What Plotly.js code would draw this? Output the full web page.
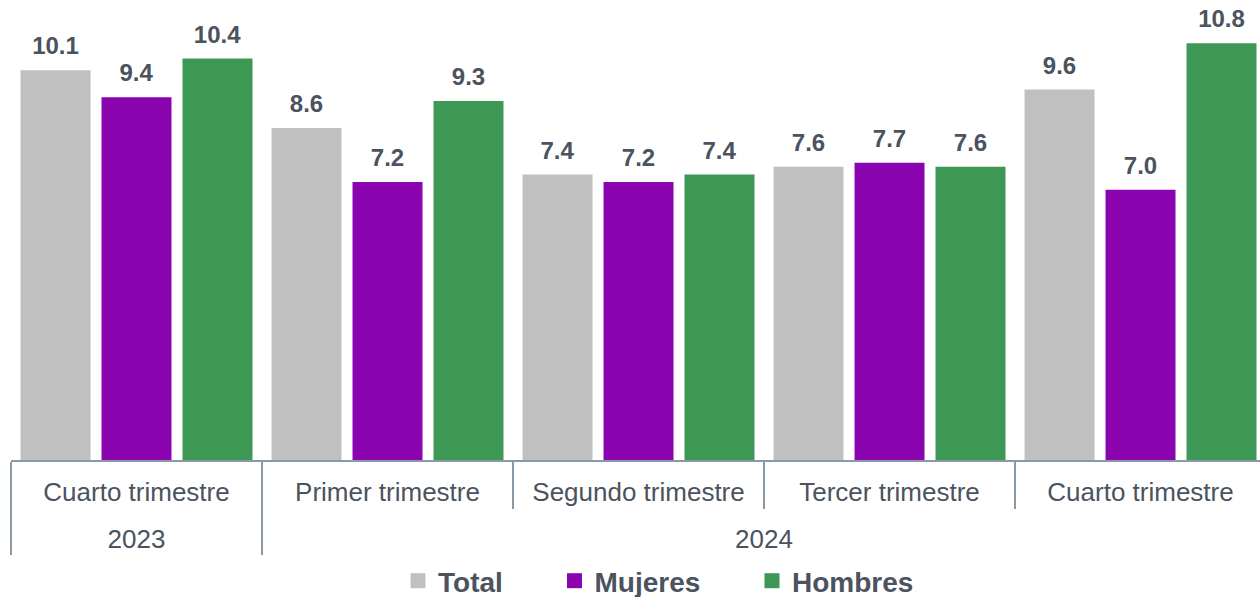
<!DOCTYPE html>
<html>
<head>
<meta charset="utf-8">
<script src="https://cdn.plot.ly/plotly-3.0.1.min.js"></script>
<style>html,body{margin:0;padding:0;background:#fff;}#chart{width:1260px;height:597px;}</style>
</head>
<body>
<div id="chart"></div>
<script>
const years = ['2023', '2024', '2024', '2024', '2024'];
const quarters = ['Cuarto trimestre', 'Primer trimestre', 'Segundo trimestre', 'Tercer trimestre', 'Cuarto trimestre'];
const seriesNames = ['Total', 'Mujeres', 'Hombres'];
const total = [10.1, 8.6, 7.4, 7.6, 9.6];
const mujeres = [9.4, 7.2, 7.2, 7.7, 7.0];
const hombres = [10.4, 9.3, 7.4, 7.6, 10.8];

const colors = ['#C0C0C0', '#8A05B0', '#3D9755'];
const textColor = '#4A535E';
const axisColor = '#8A99A6';
const FONT = 'Liberation Sans, Arial, sans-serif';

// inner-level labels: padded (for level spacing) and made unique per position
const pad = '<span style="font-size:48px">\u00a0</span>';
const innerCats = quarters.map((q, i) => pad + q + (quarters.indexOf(q) !== i ? '\u200b' : '') + pad);
const xCats = [years, innerCats];

const values = [total, mujeres, hombres];
const traces = [];
values.forEach((v, i) => {
  traces.push({
    type: 'bar', name: seriesNames[i],
    x: xCats, y: v,
    marker: {color: colors[i]},
    showlegend: false, hoverinfo: 'skip'
  });
});
// value labels (transparent bars on an overlaid axis, lifted slightly)
values.forEach((v, i) => {
  traces.push({
    type: 'bar', name: seriesNames[i] + ' etiqueta',
    x: xCats, y: v, yaxis: 'y2',
    marker: {color: 'rgba(0,0,0,0)'},
    text: v.map(d => d.toFixed(1)),
    textposition: 'outside', cliponaxis: false,
    textfont: {family: FONT, size: 24, color: textColor, weight: 'bold'},
    showlegend: false, hoverinfo: 'skip'
  });
});
// legend entries
const legendSpace = ['\u00a0\u00a0\u00a0\u00a0\u00a0\u00a0', '\u00a0\u00a0\u00a0\u00a0\u00a0\u00a0', ''];
seriesNames.forEach((n, i) => {
  traces.push({
    type: 'scatter', mode: 'markers', name: n + legendSpace[i],
    x: [[years[0]], [innerCats[0]]], y: [null],
    marker: {symbol: 'square', size: 15, color: colors[i]},
    showlegend: true, hoverinfo: 'skip'
  });
});

const layout = {
  width: 1260, height: 597,
  margin: {l: 11, r: 0, t: 20, b: 137},
  paper_bgcolor: '#ffffff', plot_bgcolor: '#ffffff',
  barmode: 'group', bargap: 0.032, bargroupgap: 0.136,
  font: {family: FONT, color: textColor},
  xaxis: {
    type: 'multicategory',
    range: [-0.5, 4.476],
    automargin: false,
    tickangle: 0,
    showline: true, linecolor: axisColor, linewidth: 2,
    ticks: 'outside', tickcolor: axisColor, tickwidth: 2, ticklen: 47,
    ticklabelstandoff: 8,
    showdividers: true, dividercolor: axisColor, dividerwidth: 2,
    tickfont: {family: FONT, size: 26, color: textColor},
    showgrid: false, zeroline: false
  },
  yaxis: {range: [0, 11.4], visible: false, showgrid: false, zeroline: false, automargin: false},
  yaxis2: {range: [-0.2, 11.2], overlaying: 'y', visible: false, showgrid: false, zeroline: false, automargin: false},
  showlegend: true,
  legend: {
    orientation: 'h', xref: 'container', yref: 'container',
    x: 398 / 1260, xanchor: 'left', y: (597 - 581) / 597, yanchor: 'middle',
    font: {family: FONT, size: 28, color: textColor, weight: 'bold'},
    itemwidth: 30, traceorder: 'normal', bgcolor: 'rgba(0,0,0,0)'
  }
};

Plotly.newPlot('chart', traces, layout, {displayModeBar: false, staticPlot: true});
</script>
</body>
</html>
